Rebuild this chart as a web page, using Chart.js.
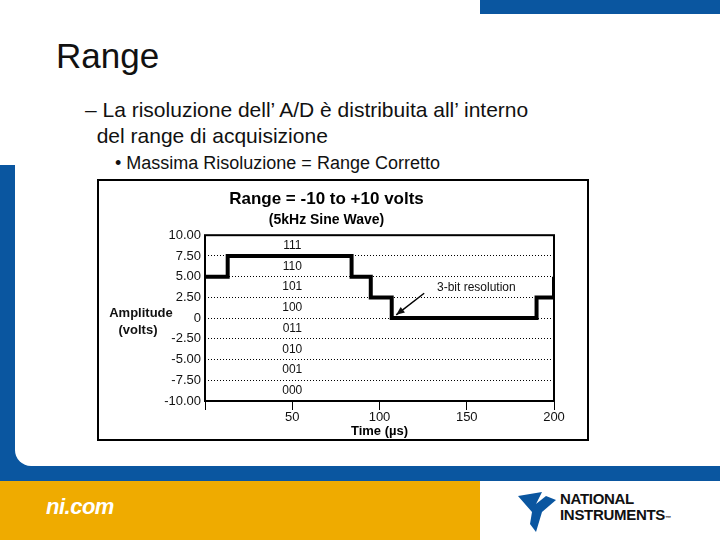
<!DOCTYPE html>
<html><head><meta charset="utf-8">
<script src="https://cdn.jsdelivr.net/npm/chart.js@4"></script>
<style>
body{margin:0;width:720px;height:540px;position:relative;overflow:hidden;background:#fff;font-family:Arial,"Liberation Sans",sans-serif}
.abs{position:absolute}
</style></head><body>
<div class="abs" style="left:480px;top:0;width:240px;height:14px;background:#0a56a0"></div>
<div class="abs" style="left:0;top:165px;width:720px;height:316px;background:#0a56a0"></div>
<div class="abs" style="left:15px;top:150px;width:705px;height:316px;background:#fff;border-bottom-left-radius:16px"></div>
<div class="abs" style="left:0;top:481px;width:480px;height:59px;background:#efab00"></div>
<div class="abs" style="left:46px;top:494px;color:#fff;font-style:italic;font-weight:bold;font-size:22px;letter-spacing:-0.5px">ni.com</div>
<svg class="abs" style="left:516px;top:490px" width="44" height="44"><path d="M2 6 L26 2 L20 14 L30 6 L40 10 L26 22 L20 42 L14 34 L16 22 Z" fill="#0a56a0"/></svg>
<div class="abs" style="left:560px;top:491px;font-weight:bold;font-size:15px;line-height:16px;color:#111;letter-spacing:-0.3px">NATIONAL<br>INSTRUMENTS<span style="font-size:6px">™</span></div>
<div class="abs" style="left:56px;top:36px;font-size:35px;color:#111">Range</div>
<div class="abs" style="left:85px;top:97px;font-size:21px;line-height:26px;color:#111">– La risoluzione dell’ A/D è distribuita all’ interno<br>&nbsp;&nbsp;del range di acquisizione</div>
<div class="abs" style="left:115px;top:153px;font-size:18px;color:#111">• Massima Risoluzione = Range Corretto</div>
<div class="abs" style="left:97px;top:179px;width:488px;height:258px;border:2px solid #000;background:#fff">
<canvas id="c" width="488" height="258"></canvas></div>
<script>
const timeUs=[0,13,84,95,107,190,200];
const amplitude=[5,7.5,5,2.5,0,2.5,5];
const codeLabels=['111','110','101','100','011','010','001','000'];
const codeLevels=[8.75,6.25,3.75,1.25,-1.25,-3.75,-6.25,-8.75];
const codeX=50;
const arrowX=[125.6,109.6], arrowY=[3.0,0.4];
const noteText='3-bit resolution', noteX=155.5, noteY=3.7;
const yTicks=[-10,-7.5,-5,-2.5,0,2.5,5,7.5,10];

const deco={id:'deco',afterDraw(ch){
 const c=ch.ctx,x=ch.scales.x,y=ch.scales.y,a=ch.chartArea;
 c.save();
 c.strokeStyle='#000';c.lineWidth=2;c.strokeRect(a.left,a.top,a.right-a.left,a.bottom-a.top);
 c.fillStyle='#111';c.font='12px Arial';c.textAlign='center';c.textBaseline='middle';
 codeLabels.forEach((t,i)=>c.fillText(t,x.getPixelForValue(codeX),y.getPixelForValue(codeLevels[i])));
 c.fillText(noteText,x.getPixelForValue(noteX),y.getPixelForValue(noteY));
 const x1=x.getPixelForValue(arrowX[0]),y1=y.getPixelForValue(arrowY[0]),x2=x.getPixelForValue(arrowX[1]),y2=y.getPixelForValue(arrowY[1]);
 c.lineWidth=1.5;c.beginPath();c.moveTo(x1,y1);c.lineTo(x2,y2);c.stroke();
 const ang=Math.atan2(y2-y1,x2-x1);
 c.beginPath();c.moveTo(x2,y2);c.lineTo(x2-9*Math.cos(ang-0.4),y2-9*Math.sin(ang-0.4));c.lineTo(x2-9*Math.cos(ang+0.4),y2-9*Math.sin(ang+0.4));c.closePath();c.fill();
 c.font='bold 13px Arial';c.fillText('Amplitude',42,132);c.fillText('(volts)',39,149);
 c.restore();}};

new Chart(document.getElementById('c'),{
 type:'line',
 data:{datasets:[{data:timeUs.map((t,i)=>({x:t,y:amplitude[i]})),stepped:'before',borderColor:'#000',borderWidth:4,pointRadius:0,fill:false}]},
 options:{responsive:false,animation:false,
  layout:{padding:{left:0,right:33,top:0,bottom:0}},
  plugins:{legend:{display:false},tooltip:{enabled:false},
   title:{display:true,text:'Range = -10 to +10 volts',color:'#000',font:{family:'Arial',size:17,weight:'bold'},padding:{top:8,bottom:2}},
   subtitle:{display:true,text:'(5kHz Sine Wave)',color:'#000',font:{family:'Arial',size:14,weight:'bold'},padding:{top:0,bottom:7}}},
  scales:{
   x:{type:'linear',min:0,max:200,afterFit:s=>{s.height=38},
    ticks:{stepSize:50,color:'#111',font:{family:'Arial',size:13},padding:0,maxRotation:0,callback:v=>v===0?'':String(v)},
    grid:{drawOnChartArea:false,drawTicks:true,tickLength:9,color:'#000',lineWidth:1},
    border:{display:false},
    title:{display:true,text:'Time (µs)',color:'#000',font:{family:'Arial',size:13,weight:'bold'},padding:{top:0,bottom:0}}},
   y:{min:-10,max:10,afterFit:s=>{s.width=106},
    afterBuildTicks:s=>{s.ticks=yTicks.map(v=>({value:v}))},
    ticks:{color:'#111',font:{family:'Arial',size:13},padding:4,callback:v=>v===0?'0':v.toFixed(2)},
    grid:{drawTicks:false,color:'#000',lineWidth:1},
    border:{display:false,dash:[1,2]}}
  }},
 plugins:[deco]});
</script></body></html>
